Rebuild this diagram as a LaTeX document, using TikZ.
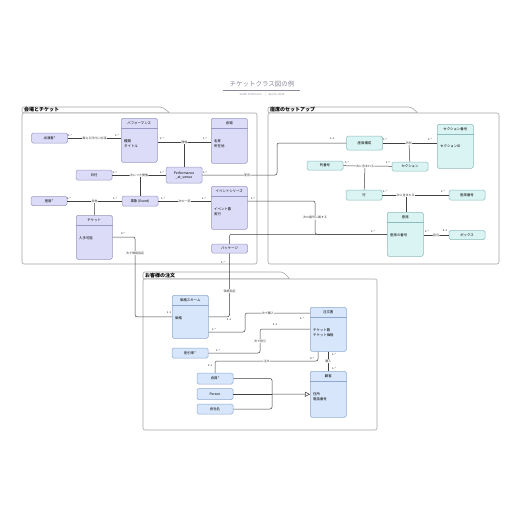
\documentclass[tikz,border=0pt]{standalone}
\usepackage{fontspec}
\setmainfont{Noto Sans CJK JP}
\usepackage{xcolor}
\usepackage{tikz}
\usetikzlibrary{positioning}
\usetikzlibrary{calc}
\usetikzlibrary{arrows.meta}
\definecolor{lavfill}{HTML}{DCDCF8}
\definecolor{lavline}{HTML}{9898C4}
\definecolor{cyanfill}{HTML}{DAF3F3}
\definecolor{cyanline}{HTML}{8CBCBC}
\definecolor{bluefill}{HTML}{D7E6FB}
\definecolor{blueline}{HTML}{8EA8D0}
\definecolor{pkgline}{HTML}{A4A4A4}
\definecolor{ttlgray}{HTML}{8A8A9C}
\tikzstyle{smallbox}=[rectangle,rounded corners=1.5pt,draw,line width=0.5pt,minimum width=36pt,minimum height=10pt,inner sep=0pt,align=center,font=\fontsize{3.4}{4}\selectfont]
\tikzstyle{lavbox}=[smallbox,fill=lavfill,draw=lavline]
\tikzstyle{cyanbox}=[smallbox,fill=cyanfill,draw=cyanline]
\tikzstyle{bluebox}=[smallbox,fill=bluefill,draw=blueline]
\tikzstyle{attr}=[anchor=north west,align=left,inner sep=0pt,font=\fontsize{3.4}{5}\selectfont]
\tikzstyle{ctitle}=[inner sep=0pt,font=\fontsize{3.4}{4}\selectfont]
\tikzstyle{assoc}=[draw,line width=0.5pt,black!75,rounded corners=2pt]
\tikzstyle{weight}=[fill=white,inner sep=0.5pt,font=\fontsize{3}{3.5}\selectfont]
\tikzstyle{mult}=[inner sep=0pt,font=\fontsize{2.6}{3}\selectfont]
\tikzstyle{pkg}=[draw=pkgline,line width=0.6pt,rounded corners=2pt]
\tikzstyle{pkgtitle}=[anchor=west,inner sep=0pt,font=\fontsize{5}{6}\selectfont\bfseries]

\begin{document}
\begin{tikzpicture}[x=1pt,y=-1pt]

  \useasboundingbox (0,0) rectangle (516,516);

  % title
  \node[text=ttlgray,font=\fontsize{6.5}{7}\selectfont] (title) at (262,84) {チケットクラス図の例};
  \draw[ttlgray,line width=0.5pt] (223,90) -- (300,90);
  \node[text=ttlgray,font=\fontsize{2.8}{3}\selectfont] (subtitle) at (262,94.5) {Sarah Tomlinson \quad|\quad April 6, 2015};

  % packages
  \path[pkg,fill=white] (22,113) -- (22,107) -- (162,107) -- (170,113) -- cycle;
  \path[pkg,fill=white] (22,113) rectangle (257,264);
  \node[pkgtitle] (pkg1) at (24,110) {会場とチケット};

  \path[pkg,fill=white] (268,113) -- (268,107) -- (411,107) -- (418,113) -- cycle;
  \path[pkg,fill=white] (268,113) rectangle (499,264);
  \node[pkgtitle] (pkg2) at (270,110) {座席のセットアップ};

  \path[pkg,fill=white] (143,279) -- (143,272) -- (283,272) -- (290,279) -- cycle;
  \path[pkg,fill=white] (143,279) rectangle (377,430);
  \node[pkgtitle] (pkg3) at (145,276) {お客様の注文};

  % classes
  \foreach \x/\y/\h/\name/\st/\c/\title/\attrs in {
      121/118/44/perf/lavbox/lavline/パフォーマンス/{種類\\タイトル},
      211/118/45/venue/lavbox/lavline/会場/{名称\\所在地},
      211/186/43/series/lavbox/lavline/イベントシリーズ/{イベント数\\実行},
      76/215/44/ticket/lavbox/lavline/チケット/{入手可能},
      437/124/44/secnum/cyanbox/cyanline/セクション番号/{セクションID},
      387/212/44/seat/cyanbox/cyanline/座席/{座席の番号},
      172/295/43/price/bluebox/blueline/価格スキーム/{価格},
      310/307/44/order/bluebox/blueline/注文書/{チケット数\\チケット価格},
      310/371/46/customer/bluebox/blueline/顧客/{住所\\電話番号}}
  {
    \node[\st,anchor=north west,minimum height=\h] (\name) at (\x,\y) {};
    \draw[\c,line width=0.5pt] ([yshift=-10pt]\name.north west) -- ([yshift=-10pt]\name.north east);
    \node[ctitle] (\name-t) at ([yshift=-5pt]\name.north) {\title};
    \node[attr] (\name-a) at ([xshift=3pt,yshift=-21pt]\name.north west) {\attrs};
  }

  % small boxes
  \foreach \x/\y/\h/\name/\st/\label in {
      49.5/138/10/performer/lavbox/出演者*,
      94/175/10/date/lavbox/日付,
      184/175/16/pav/lavbox/{Performance\\\_at\_venue},
      140/201/10/event/lavbox/事象 (Event),
      49/201/9/seatx/lavbox/座席*,
      229.5/248.5/9/package/lavbox/パッケージ,
      364.5/143/14/seatcfg/cyanbox/座席構成,
      325/165.5/9/rownum/cyanbox/列番号,
      410/166.5/9/section/cyanbox/セクション,
      364/195/10/row/cyanbox/行,
      467/195/10/seatnum/cyanbox/座席番号,
      467/235/9/box/cyanbox/ボックス,
      190/353/10/discount/bluebox/割引率*,
      215/378.5/11/member/bluebox/会員*,
      215/394/11/person/bluebox/Person,
      215/409/10/company/bluebox/会社名}
    \node[\st,minimum height=\h] (\name) at (\x,\y) {\label};

  % bends
  \coordinate (pv) at (184,142);
  \coordinate (dv) at (140,175);
  \coordinate (tk) at (94.5,201);
  \coordinate (k1) at (277,175);
  \coordinate (k2) at (315,201);
  \coordinate (k4) at (135,237);
  \coordinate (k5) at (245,332);
  \coordinate (k6) at (245,313);
  \coordinate (k7) at (260,329);
  \coordinate (k8) at (318,361);
  \coordinate (cs) at (409,143);
  \coordinate (rs) at (365,165.5);
  \coordinate (rn) at (406,195);
  \coordinate (g) at (272,394);

  % venues and tickets
  \path[assoc] (pv) -- (pav);
  \path[assoc] (dv) -- (event);
  \path[assoc] (tk) -- (ticket);
  \path[assoc] (performer) -- node[weight] {異なる日付に出演} (performer -| perf.west);
  \path[assoc] (perf.east |- pv) -- node[weight] {開催} (venue.west |- pv);
  \path[assoc] (date) -- node[weight] {次につき開催} (pav);
  \path[assoc] (pav) -- node[weight,pos=0.6] {使用} (k1) |- (seatcfg);
  \path[assoc] (seatx) -- node[weight] {発券} (seatx -| event.west);
  \path[assoc] (event) -- node[weight] {次の一部} (event -| series.west);
  \path[assoc] (package.north) |- (seat.west);
  \path[assoc] (series.east |- k2) -- (k2) -- node[weight] {次の番号に属する} (k2 |- seat.west) -- (seat.west);
  \path[assoc] (ticket.east |- k4) -- (k4) -- node[weight,pos=0.2] {次で価格指定} (k4 |- price.west) -- (price.west);
  \path[assoc] (package.south) -- node[weight,pos=0.6] {価格指定} (package.south |- price.east) -- (price.east);

  % seating setup
  \path[assoc] (cs) -- (section);
  \path[assoc] (rs) -- (row);
  \path[assoc] (rn) -- (rn |- seat.north);
  \path[assoc] (seatcfg) -- node[weight,pos=0.48] {所有} (seatcfg -| secnum.west);
  \path[assoc] (rownum) -- node[weight,pos=0.45] {次に含まれる} (section);
  \path[assoc] (row) -- node[weight,pos=0.35] {次に含まれる} (seatnum);
  \path[assoc] (seat.east |- box) -- node[weight] {割当} (box);

  % customer orders
  \path[assoc] (price.east |- k5) -- (k5) -- (k6) -- node[weight,pos=0.35] {次で購入} (order.west |- k6);
  \path[assoc] (order.west |- k7) -- (k7) -- node[weight] {次で割引} (k7 |- discount.east) -- (discount.east);
  \path[assoc] (order) -- node[weight] {購入} (customer);
  \path[assoc] (k8 |- order.south) -- (k8) -- node[weight] {注文} (k8 -| member.north) -- (member.north);
  \path[assoc] (member.east) -| (g);
  \path[assoc] (company.east) -| (g);
  \path[assoc] (person.east) -- (g);
  \path[assoc,-{Triangle[open,length=5pt,width=5pt]}] (g) -- (customer.west);

  % multiplicities
  \foreach \x/\y/\t [count=\i] in {
      70/135/1..*, 117/135/1..*, 162/138/1..*, 205/138/1..*,
      115/172/1..*, 162/172/1..*, 205/172/1..*, 332/139/1..1,
      69/198/1..*, 115/198/1..*, 163/198/1..*, 204/198/1..*,
      253/198/1..*, 373/231/1..*, 123/233/0..*, 169/313/1..1,
      223/262/1..*, 229/320/1..1,
      385/139/1..*, 430/139/1..*, 347/162/1..*, 388/162/1..*,
      385/191/1..*, 443/191/1..*, 427/231/1..*, 445/231/0..1,
      214/329/1..*, 302/318/1..*, 275/325/1..1, 218/350/1..*,
      334/354/1..*, 334/368/1..*, 312/358/0..*, 210/366/1..1}
    \node[mult] (m\i) at (\x,\y) {\t};

\end{tikzpicture}
\end{document}
